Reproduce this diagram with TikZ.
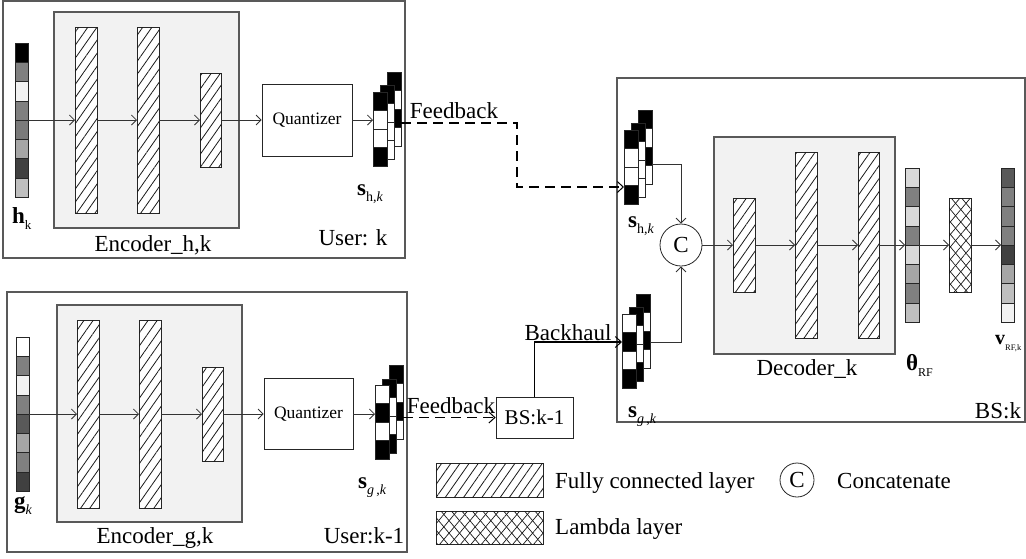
\documentclass[tikz,border=0pt]{standalone}
\usepackage{fontspec}
\setmainfont{Liberation Serif}
\usetikzlibrary{patterns.meta,arrows.meta}
\newcommand\bx[6][]{\node[rectangle, inner sep=0pt, outer sep=0pt, anchor=north west, minimum width={(#5)-(#3)}, minimum height={(#6)-(#4)}, #1] (#2) at (#3,#4) {};}
\newcommand\vcol[7]{%
  \foreach \cellc [count=\i from 0] in {#7} {\path[cellline, fill=\cellc] ({#2},{#3+\i*#5}) rectangle ++(#4,#5);}
  \bx[cellout]{#1}{#2}{#3}{#2+#4}{#3+#6*#5}}
\newcommand\sub[2][14]{\raisebox{-0.28em}{\fontsize{#1}{#1}\selectfont #2}}
\begin{document}
\begin{tikzpicture}[x=1pt,y=-1pt,
  font=\fontsize{23}{27}\selectfont,
  outerbox/.style={draw=black!65, line width=1.1pt},
  encbox/.style={draw=black!65, fill=black!5, line width=1.1pt},
  fc/.style={draw=black!85, line width=0.8pt, fill=white, postaction={pattern={Lines[angle=55,distance=7.5pt,line width=0.8pt]}, pattern color=black!90}},
  lam/.style={draw=black!85, line width=0.8pt, fill=white, postaction={pattern={Lines[angle=50,distance=8pt,line width=0.7pt]}, pattern color=black!90}, postaction={pattern={Lines[angle=-50,distance=8pt,line width=0.7pt]}, pattern color=black!90}},
  quant/.style={draw=black!85, line width=0.8pt, fill=white, rectangle, inner sep=0pt, font=\fontsize{17.5}{20}\selectfont},
  cellline/.style={draw=black!85, line width=0.5pt},
  cellout/.style={draw=black!85, line width=0.8pt},
  conn/.style={draw=black!80, line width=0.8pt, -{Straight Barb[length=5pt,width=10pt]}},
  fbline/.style={draw=black, line width=1.5pt, dash pattern=on 10pt off 6pt, -{Straight Barb[length=6pt,width=11pt,line width=1pt]}},
  bhline/.style={draw=black, line width=1.2pt, -{Straight Barb[length=6pt,width=11pt,line width=1pt]}},
  txt/.style={inner sep=0pt, anchor=base west},
  ctxt/.style={inner sep=0pt, anchor=base},
  concat/.style={circle, draw=black!85, line width=0.8pt, inner sep=0pt},
]
\useasboundingbox (0,0) rectangle (1026,558);

% ---------------- top user ----------------
\bx[outerbox]{ubox1}{3}{1}{405}{258}
\bx[encbox]{enc1}{54}{12}{239}{228}
\bx[fc]{e1a}{75}{27}{97}{213}
\bx[fc]{e1b}{137}{27}{159}{213}
\bx[fc]{e1c}{200}{73}{221}{167}
\node[quant, minimum width=90, minimum height=72] (q1) at (307,120) {Quantizer};
\vcol{hv}{15}{43}{13}{19.25}{8}{black, black!50, black!5, black!50, black!52, black!35, black!75, black!25}
\vcol{s1b}{387}{72}{14}{18.5}{4}{black, white, black, white}
\vcol{s1m}{380}{85}{14}{18.5}{4}{black, white, white, white}
\vcol{s1f}{373}{92}{14}{18.5}{4}{black, white, white, black}
\node[txt] (lhk) at (12,223) {\textbf{h}\sub[13]{k}};
\node[txt] (ls1) at (357,195) {\textbf{s}\sub{h,\textit{k}}};
\node[ctxt] (lenc1) at (153,251) {Encoder\_h,k};
\node[ctxt] (lu1) at (353,245) {User: k};
\draw[conn] (hv.east) -- (e1a.west);
\draw[conn] (e1a.east) -- (e1b.west);
\draw[conn] (e1b.east) -- (e1c.west);
\draw[conn] (e1c.east) -- (q1.west);
\draw[conn] (q1.east) -- (q1.east -| s1f.west);

% ---------------- bottom user ----------------
\bx[outerbox]{ubox2}{7}{292}{407}{552}
\bx[encbox]{enc2}{57}{305}{242}{522}
\bx[fc]{e2a}{77}{320}{99}{508}
\bx[fc]{e2b}{139}{320}{161}{508}
\bx[fc]{e2c}{202}{367}{223}{461}
\node[quant, minimum width=89, minimum height=71] (q2) at (308.5,414) {Quantizer};
\vcol{gv}{16}{337}{13}{19.25}{8}{white, black!50, black!5, black!50, black!65, black!35, black!50, black!75}
\vcol{s2b}{389}{365}{14}{18.5}{4}{black, white, black, white}
\vcol{s2m}{382}{379}{14}{18.5}{4}{black, white, white, black}
\vcol{s2f}{375}{385}{14}{18.5}{4}{white, black, white, black}
\node[txt] (lgk) at (14,508) {\textbf{g}\sub{\textit{k}}};
\node[txt] (ls2) at (358,488) {\textbf{s}\sub{\textit{g}\,,\textit{k}}};
\node[ctxt] (lenc2) at (155,543) {Encoder\_g,k};
\node[ctxt] (lu2) at (364,543) {User:k-1};
\draw[conn] (gv.east) -- (e2a.west);
\draw[conn] (e2a.east) -- (e2b.west);
\draw[conn] (e2b.east) -- (e2c.west);
\draw[conn] (e2c.east) -- (q2.west);
\draw[conn] (q2.east) -- (q2.east -| s2f.west);

% ---------------- BS k-1 ----------------
\node[quant, font=\fontsize{21}{24}\selectfont, minimum width=77, minimum height=41] (bsk1) at (534.5,417.5) {BS:k-1};
\node[ctxt] (lfb2) at (451,413) {Feedback};
\draw[fbline] (s2b.east |- bsk1.west) -- (bsk1.west);

% ---------------- BS k ----------------
\bx[outerbox]{bsk}{617}{78}{1025}{422}
\bx[encbox]{dec}{714}{137}{895}{354}
\bx[fc]{d1}{733}{198}{755}{292}
\bx[fc]{d2}{795}{152}{817}{338}
\bx[fc]{d3}{858}{152}{879}{338}
\vcol{th}{905}{168}{14}{19.25}{8}{black!15, black!50, black!15, black!50, black!15, black!35, black!50, black!25}
\bx[lam]{lm}{949}{198}{971}{292}
\vcol{vv}{1001}{168}{13}{19.25}{8}{black!65, black!50, black!50, black!50, black!75, black!35, black!25, black!5}
\vcol{r1b}{638}{110}{14}{18.5}{4}{black, white, black, white}
\vcol{r1m}{631}{123}{14}{18.5}{4}{black, white, white, white}
\vcol{r1f}{624}{130}{14}{18.5}{4}{black, white, white, black}
\vcol{r2b}{636}{294}{14}{18.5}{4}{black, white, black, white}
\vcol{r2m}{629}{307}{14}{18.5}{4}{black, white, white, black}
\vcol{r2f}{622}{314}{14}{18.5}{4}{white, black, white, black}
\node[concat, minimum size=42] (cc) at (681,245) {C};
\node[txt] (ls3) at (628,227) {\textbf{s}\sub{h,\textit{k}}};
\node[txt] (ls4) at (628,417) {\textbf{s}\sub{\textit{g}\,,\textit{k}}};
\node[ctxt] (ldec) at (807,375) {Decoder\_k};
\node[ctxt] (lbsk) at (998,418) {BS:k};
\node[txt] (lth) at (906,370) {\textbf{θ}\sub[12]{RF}};
\node[txt] (lv) at (995,344) {{\fontsize{20}{20}\selectfont\textbf{v}}\sub[8.5]{RF,k}};
\coordinate (ytop) at (0,164);
\coordinate (ybot) at (0,342);
\draw[conn] (r1b.east |- ytop) -| (cc.north);
\draw[conn] (r2b.east |- ybot) -| (cc.south);
\draw[conn] (cc.east) -- (d1.west);
\draw[conn] (d1.east) -- (d2.west);
\draw[conn] (d2.east) -- (d3.west);
\draw[conn] (d3.east) -- (th.west);
\draw[conn] (th.east) -- (lm.west);
\draw[conn] (lm.east) -- (vv.west);

% ---------------- links ----------------
\node[ctxt] (lfb1) at (454,118) {Feedback};
\coordinate (fbA) at (517,123);
\coordinate (fbB) at (517,187);
\draw[fbline] (s1b.east |- fbA) -- (fbA) -- (fbB) -- (r1f.west |- fbB);
\node[ctxt] (lbh) at (568,340) {Backhaul};
\draw[bhline] (bsk1.north) -- (bsk1.north |- ybot) -- (r2f.west |- ybot);

% ---------------- legend ----------------
\bx[fc]{lg1}{436}{463}{543}{497}
\node[txt] (lgt1) at (555,488) {Fully connected layer};
\node[concat, minimum size=34] (lgc) at (797,480) {C};
\node[txt] (lgt2) at (837,488) {Concatenate};
\bx[lam]{lg2}{436}{511}{543}{544}
\node[txt] (lgt3) at (555,534) {Lambda layer};
\end{tikzpicture}
\end{document}
